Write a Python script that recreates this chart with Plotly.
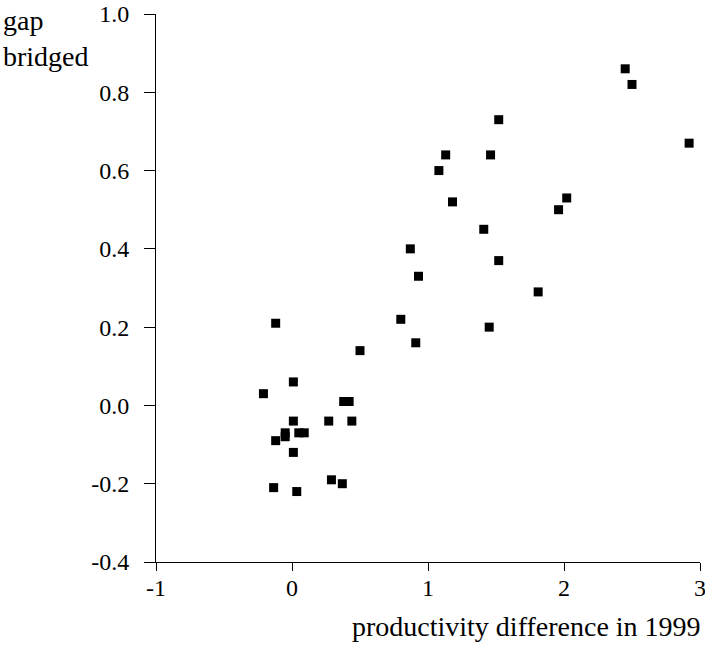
import plotly.graph_objects as go

# productivity difference in 1999 (x) vs gap bridged (y)
prod_diff = [-0.12, 0.50, 0.01, -0.21, 0.38, 0.42, 0.01, 0.27, 0.44, -0.12,
             -0.05, -0.05, 0.05, 0.09, 0.01, 0.29, 0.37, -0.135, 0.035,
             1.52, 1.13, 1.46, 1.08, 1.18, 2.02, 1.96, 1.41, 0.87, 1.52,
             0.93, 1.81, 0.80, 1.45, 0.91,
             2.45, 2.50, 2.92]
gap_bridged = [0.21, 0.14, 0.06, 0.03, 0.01, 0.01, -0.04, -0.04, -0.04, -0.09,
               -0.07, -0.08, -0.07, -0.07, -0.12, -0.19, -0.20, -0.21, -0.22,
               0.73, 0.64, 0.64, 0.60, 0.52, 0.53, 0.50, 0.45, 0.40, 0.37,
               0.33, 0.29, 0.22, 0.20, 0.16,
               0.86, 0.82, 0.67]

x_ticks = [-1, 0, 1, 2, 3]
y_ticks = [-0.4, -0.2, 0.0, 0.2, 0.4, 0.6, 0.8, 1.0]
x_title = "productivity difference in 1999"
y_title = "gap<br>bridged"

FONT = "Liberation Serif"

fig = go.Figure()
fig.add_trace(go.Scatter(
    x=prod_diff, y=gap_bridged, mode="markers",
    marker=dict(symbol="square", size=9, color="black", line=dict(width=0)),
    showlegend=False, hoverinfo="x+y"))

fig.update_layout(
    width=705, height=657,
    margin=dict(l=156, r=5, t=14, b=95, autoexpand=False),
    paper_bgcolor="white", plot_bgcolor="white",
    font=dict(family=FONT, size=24, color="black"),
    xaxis=dict(range=[-1, 3], tickvals=x_ticks, ticktext=[str(v) for v in x_ticks],
               showgrid=False, zeroline=False, showline=True, linecolor="black",
               linewidth=1, ticks="outside", ticklen=8, tickcolor="black",
               ticklabelstandoff=-4, ticklabeloverflow="allow", automargin=False,
               tickfont=dict(family=FONT, size=24, color="black")),
    yaxis=dict(range=[-0.4, 1.0], tickvals=y_ticks, ticktext=[f"{v:.1f}" for v in y_ticks],
               showgrid=False, zeroline=False, showline=True, linecolor="black",
               linewidth=1, ticks="outside", ticklen=11, tickcolor="black",
               ticklabelstandoff=10, ticklabeloverflow="allow", automargin=False,
               tickfont=dict(family=FONT, size=24, color="black")),
    annotations=[
        dict(text=x_title, xref="paper", yref="paper", x=1.0055, y=-0.117,
             xanchor="right", yanchor="middle", showarrow=False,
             font=dict(family=FONT, size=28, color="black")),
        dict(text=y_title, xref="paper", yref="paper", x=-0.285, y=1.0205,
             xanchor="left", yanchor="top", showarrow=False, align="left",
             font=dict(family=FONT, size=28, color="black")),
    ],
)

fig.write_html("out.html", config={"displayModeBar": False},
               post_script="document.body.style.margin='0px';")
